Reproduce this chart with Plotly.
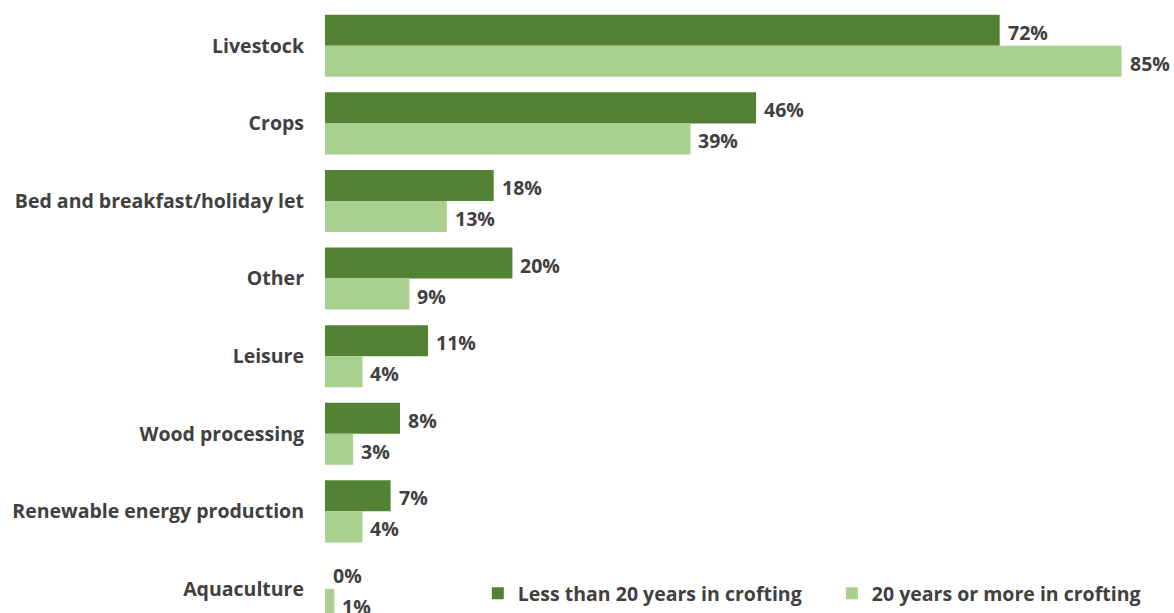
import plotly.graph_objects as go

categories = [
    "Livestock",
    "Crops",
    "Bed and breakfast/holiday let",
    "Other",
    "Leisure",
    "Wood processing",
    "Renewable energy production",
    "Aquaculture",
]
less_than_20 = [72, 46, 18, 20, 11, 8, 7, 0]
twenty_or_more = [85, 39, 13, 9, 4, 3, 4, 1]

series_names = ["Less than 20 years in crofting", "20 years or more in crofting"]
DARK = "#548235"
LIGHT = "#A9D08E"
TEXT = "#404040"
FONT = "Open Sans"
FSIZE = 19.5

fig = go.Figure()
series = [
    (series_names[0], less_than_20, DARK, -1, "legend"),
    (series_names[1], twenty_or_more, LIGHT, 1, "legend2"),
]
for name, vals, col, side, leg in series:
    fig.add_trace(go.Bar(
        y=categories,
        x=vals,
        name=name,
        orientation="h",
        marker=dict(color=col, line=dict(width=0)),
        cliponaxis=False,
        legend=leg,
    ))
    # value labels just past the end of each bar
    for cat, v in zip(categories, vals):
        fig.add_annotation(
            x=v, y=cat, xref="x", yref="y",
            text=f"{v}%",
            showarrow=False,
            xanchor="left", yanchor="middle",
            xshift=6, yshift=-side * 15.5 - 2,
            font=dict(family=FONT, size=FSIZE, color=TEXT, weight="bold"),
        )

legend_style = dict(
    orientation="h",
    xanchor="left",
    y=0,
    yanchor="bottom",
    font=dict(family=FONT, size=FSIZE, color=TEXT, weight="bold"),
    itemwidth=30,
    bgcolor="rgba(0,0,0,0)",
)

fig.update_layout(
    width=1174,
    height=613,
    margin=dict(l=325, r=0, t=7, b=0),
    paper_bgcolor="white",
    plot_bgcolor="white",
    barmode="group",
    bargap=0.2,
    bargroupgap=0,
    font=dict(family=FONT, color=TEXT),
    xaxis=dict(
        range=[0, 90.6],
        visible=False,
        showgrid=False,
        zeroline=False,
    ),
    yaxis=dict(
        type="category",
        range=[7.31, -0.5],
        showgrid=False,
        showline=False,
        ticks="",
        ticklabelstandoff=20,
        tickfont=dict(family=FONT, size=FSIZE, color=TEXT, weight="bold"),
    ),
    legend=dict(x=0.180, **legend_style),
    legend2=dict(x=0.597, **legend_style),
    showlegend=True,
)

fig.write_html("out.html")
